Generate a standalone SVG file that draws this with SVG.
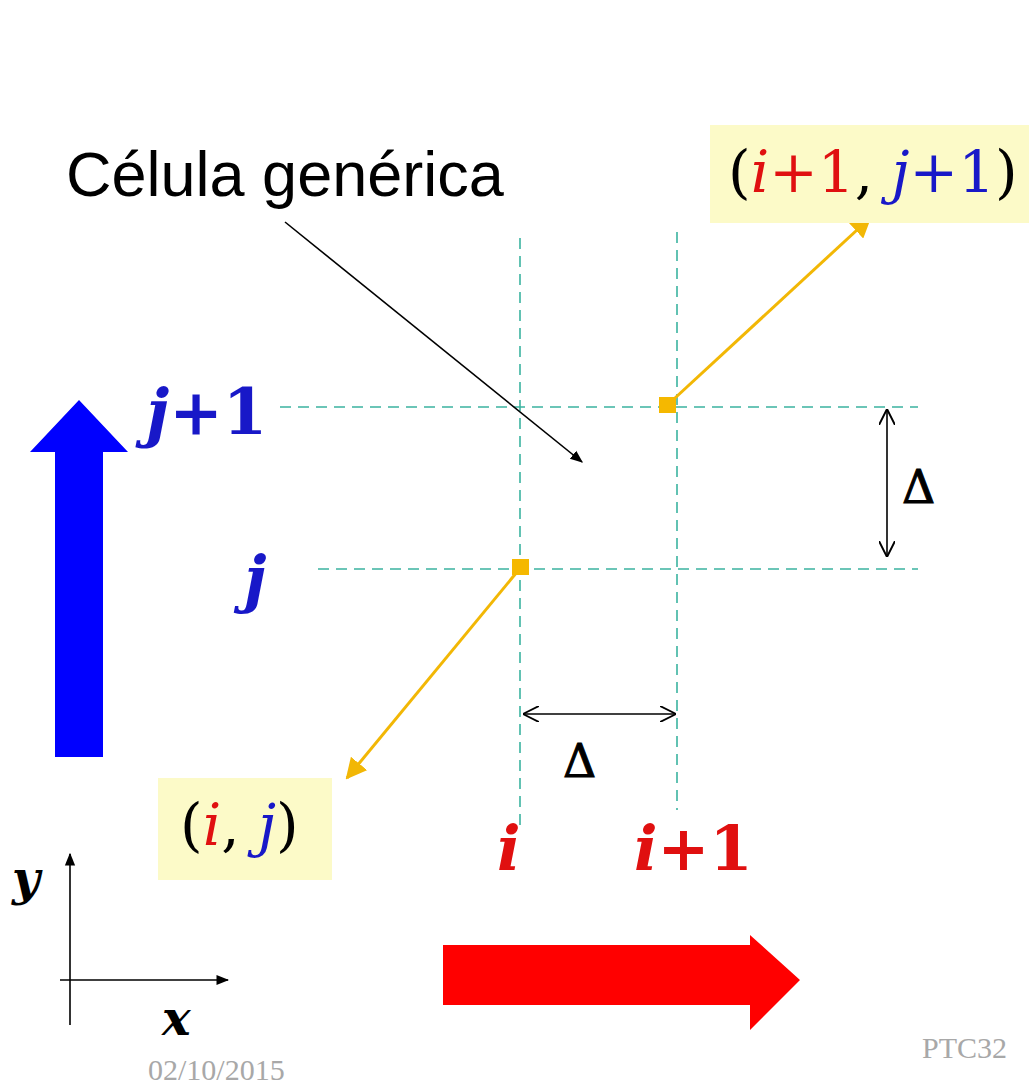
<svg xmlns="http://www.w3.org/2000/svg" width="1029" height="1087" viewBox="0 0 1029 1087">
<defs>
<style>
.grid{stroke:#3bb3a0;stroke-width:1.6;stroke-dasharray:11 7;fill:none}
.gold{stroke:#f2b705;stroke-width:3;fill:none}
.thin{stroke:#000;stroke-width:1.6;fill:none}
.mb{font-family:"DejaVu Serif","Liberation Serif",serif;font-style:italic;font-weight:bold}
.mi{font-family:"DejaVu Serif","Liberation Serif",serif;font-style:italic;font-weight:normal}
.rb{font-family:"DejaVu Serif","Liberation Serif",serif;font-weight:bold}
.rm{font-family:"DejaVu Serif","Liberation Serif",serif;font-weight:normal}
.ft{font-family:"Liberation Serif","DejaVu Serif",serif}
.box{fill:#fcfac8}
</style>
<marker id="gold" viewBox="0 0 10 10" refX="9" refY="5" markerWidth="7" markerHeight="7" orient="auto" markerUnits="strokeWidth"><path d="M0,0 L10,5 L0,10 z" fill="#f2b705"/></marker>
<marker id="blk" viewBox="0 0 10 10" refX="9" refY="5" markerWidth="8" markerHeight="8" orient="auto" markerUnits="strokeWidth"><path d="M0,1 L10,5 L0,9 z" fill="#000"/></marker>
<marker id="open" viewBox="0 0 10 10" refX="10" refY="5" markerWidth="10" markerHeight="10" orient="auto-start-reverse" markerUnits="strokeWidth"><path d="M0,0 L10,5 L0,10" fill="none" stroke="#000" stroke-width="1.2"/></marker>
<marker id="axis" viewBox="0 0 10 10" refX="9" refY="5" markerWidth="8" markerHeight="8" orient="auto" markerUnits="strokeWidth"><path d="M0,1 L10,5 L0,9 z" fill="#000"/></marker>
</defs>
<rect width="1029" height="1087" fill="#fff"/>

<g id="connectors">
<line class="grid" x1="520" y1="238" x2="520" y2="830"/>
<line class="grid" x1="677" y1="232" x2="677" y2="810"/>
<line class="grid" x1="280" y1="407" x2="918" y2="407"/>
<line class="grid" x1="318" y1="569" x2="918" y2="569"/>
<line class="gold" x1="675" y1="398" x2="870" y2="218" marker-end="url(#gold)"/>
<line class="gold" x1="517" y1="572" x2="347" y2="778" marker-end="url(#gold)"/>
<line class="thin" x1="285" y1="222" x2="582" y2="462" marker-end="url(#blk)"/>
<line class="thin" x1="887" y1="409" x2="887" y2="557" marker-start="url(#open)" marker-end="url(#open)"/>
<line class="thin" x1="523" y1="714" x2="676" y2="714" marker-start="url(#open)" marker-end="url(#open)"/>
<line class="thin" x1="70" y1="1025" x2="70" y2="854" marker-end="url(#axis)"/>
<line class="thin" x1="60" y1="980" x2="228" y2="980" marker-end="url(#axis)"/>
</g>

<g id="node-ij1">
<rect class="box" x="710" y="125" width="319" height="98"/>
<text x="728" y="192" font-size="58"><tspan class="rm">(</tspan><tspan class="mi" fill="#e01010">i</tspan><tspan class="rm" fill="#e01010">+1</tspan><tspan class="rm">, </tspan><tspan class="mi" fill="#1818c8">j</tspan><tspan class="rm" fill="#1818c8">+1</tspan><tspan class="rm">)</tspan></text>
</g>

<g id="node-ij">
<rect class="box" x="158" y="778" width="174" height="102"/>
<text x="180" y="845" font-size="58"><tspan class="rm">(</tspan><tspan class="mi" fill="#e01010">i</tspan><tspan class="rm">, </tspan><tspan class="mi" fill="#1818c8">j</tspan><tspan class="rm">)</tspan></text>
</g>

<g id="node-label">
<text x="66" y="196" font-family="Liberation Sans, Arial, sans-serif" font-size="63" fill="#000">Célula genérica</text>
</g>

<g id="node-points">
<rect x="659" y="397" width="17" height="16" fill="#f5b800"/>
<rect x="512" y="559" width="17" height="16" fill="#f5b800"/>
</g>

<g id="node-jlabels">
<text x="146" y="434" font-size="64" fill="#1818c8"><tspan class="mb">j</tspan><tspan class="rb">+1</tspan></text>
<text x="244" y="600" font-size="62" fill="#1818c8" class="mb">j</text>
</g>

<g id="node-ilabels">
<text x="497" y="870" font-size="62" fill="#e01010" class="mb">i</text>
<text x="634" y="870" font-size="62" fill="#e01010"><tspan class="mb">i</tspan><tspan class="rb">+1</tspan></text>
</g>

<g id="node-deltas">
<text x="902" y="503" font-size="46" class="rm" fill="#000" stroke="#000" stroke-width="1">Δ</text>
<text x="563" y="777" font-size="46" class="rm" fill="#000" stroke="#000" stroke-width="1">Δ</text>
</g>

<g id="node-bluearrow">
<path d="M55,757 L55,452 L30,452 L79,400 L128,452 L103,452 L103,757 Z" fill="#0000ff"/>
</g>

<g id="node-redarrow">
<path d="M443,945 L750,945 L750,935 L800,980 L750,1030 L750,1005 L443,1005 Z" fill="#ff0000"/>
</g>

<g id="node-axes">
<text x="12" y="895" font-size="48" class="mb" fill="#000">y</text>
<text x="162" y="1035" font-size="48" class="mb" fill="#000">x</text>
</g>

<g id="node-footer">
<text x="148" y="1080" font-size="30" class="ft" fill="#a8a8a8">02/10/2015</text>
<text x="922" y="1058" font-size="30" class="ft" fill="#a8a8a8">PTC32</text>
</g>
</svg>
